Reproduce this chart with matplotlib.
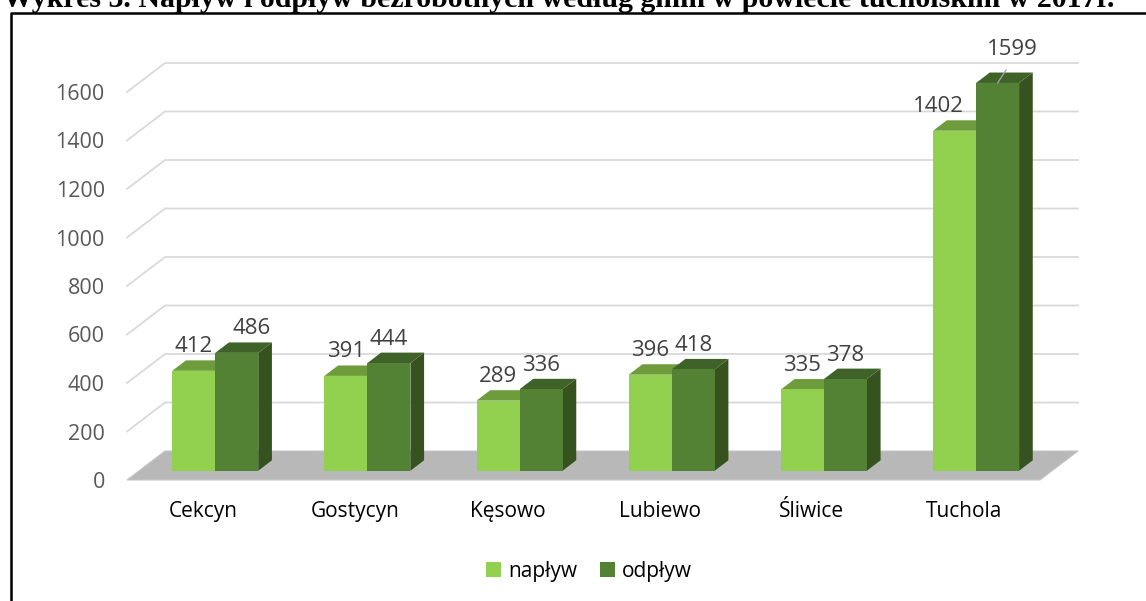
import matplotlib
matplotlib.use("Agg")
import matplotlib.pyplot as plt
from matplotlib.patches import Polygon, Patch
from matplotlib.lines import Line2D

gminy = ["Cekcyn", "Gostycyn", "Kęsowo", "Lubiewo", "Śliwice", "Tuchola"]
naplyw = [412, 391, 289, 396, 335, 1402]
odplyw = [486, 444, 336, 418, 378, 1599]
serie = ["napływ", "odpływ"]
yticks = [0, 200, 400, 600, 800, 1000, 1200, 1400, 1600]
tytul = "Wykres 3. Napływ i odpływ bezrobotnych według gmin w powiecie tucholskim w 2017r."

kol_przod = ["#92D050", "#548235"]
kol_gora = ["#6E9C3C", "#3F6229"]
kol_bok = ["#4E7A2C", "#36531F"]

plt.rcParams["font.family"] = ["Open Sans", "DejaVu Sans"]

W, H = 1146, 601
fig = plt.figure(figsize=(W / 100, H / 100), dpi=100)
ax = fig.add_axes([127 / W, (H - 480) / H, 913 / W, (480 - 43.5) / H])
ax.set_xlim(-0.5, len(gminy) - 0.5)
ax.set_ylim(0, 1800)
for s in ax.spines.values():
    s.set_visible(False)

# glebokosc "3D" w jednostkach danych (z pikseli)
p0 = ax.transData.transform((0, 0))
p1 = ax.transData.transform((1, 1000))
sx = p1[0] - p0[0]
sy = (p1[1] - p0[1]) / 1000
DX = 38 / sx
DY = 29 / sy
f, g = 0.32, 0.68          # przod / tyl slupka (czesc glebokosci)
w = 43 / sx                # szerokosc slupka

x0, x1 = -0.5, len(gminy) - 0.5

# linie siatki
for v in yticks[1:]:
    ax.plot([x0, x0 + DX, x1 + DX], [v, v + DY, v + DY], color="#D9D9D9",
            lw=1.3, clip_on=False, zorder=1)

# podloga
ax.add_patch(Polygon([(x0, 0), (x1, 0), (x1 + DX, DY), (x0 + DX, DY)],
                     closed=True, facecolor="#B8B8B8", edgecolor="#C4C4C4",
                     lw=0.8, clip_on=False, zorder=2))

# przesuniecia etykiet (px)
nudge = [[0, 0, 0, 0, 0, -16], [15, 0, 0, 0, 0, 15]]

for k, dane in enumerate([naplyw, odplyw]):
    for i, v in enumerate(dane):
        a = i - w + k * w
        b = a + w
        ox, oy = f * DX, f * DY
        bx, by = g * DX, g * DY
        # bok
        ax.add_patch(Polygon([(b + ox, oy), (b + bx, by), (b + bx, v + by), (b + ox, v + oy)],
                             closed=True, facecolor=kol_bok[k], edgecolor="none",
                             clip_on=False, zorder=3 + k))
        # gora
        ax.add_patch(Polygon([(a + ox, v + oy), (b + ox, v + oy), (b + bx, v + by), (a + bx, v + by)],
                             closed=True, facecolor=kol_gora[k], edgecolor="none",
                             clip_on=False, zorder=3 + k))
        # przod
        ax.add_patch(Polygon([(a + ox, oy), (b + ox, oy), (b + ox, v + oy), (a + ox, v + oy)],
                             closed=True, facecolor=kol_przod[k], edgecolor="none",
                             clip_on=False, zorder=3 + k))
        cx = (a + b) / 2 + ox
        if k == 1 and i == len(gminy) - 1:
            ax.annotate(str(v), xy=(cx, v + oy), xytext=(nudge[k][i], 28),
                        textcoords="offset pixels", ha="center", va="baseline",
                        fontsize=16, color="#404040", zorder=10,
                        arrowprops=dict(arrowstyle="-", color="#A6A6A6", lw=0.9,
                                        shrinkA=6, shrinkB=0, relpos=(0.5, 0)))
        else:
            ax.annotate(str(v), xy=(cx, v + by), xytext=(nudge[k][i], 8),
                        textcoords="offset pixels", ha="center", va="baseline",
                        fontsize=16, color="#404040", zorder=10)

ax.set_yticks(yticks)
ax.set_yticklabels([str(t) for t in yticks], fontsize=15.5, color="#595959")
ax.set_xticks(range(len(gminy)))
ax.set_xticklabels(gminy, fontsize=15, color="#000000")
ax.tick_params(axis="y", length=0, pad=16)
ax.tick_params(axis="x", length=0, pad=15)
ax.patch.set_visible(False)

uchwyty = [Patch(facecolor=kol_przod[0]), Patch(facecolor=kol_przod[1])]
fig.legend(uchwyty, serie, loc="center", bbox_to_anchor=(0.514, 1 - 571 / H), ncol=2,
           frameon=False, fontsize=15, handlelength=0.7, handleheight=0.7,
           handletextpad=0.35, columnspacing=1.1)

# ramka i tytul (przyciety u gory, jak w oryginale)
fig.add_artist(Line2D([11 / W, 11 / W, 1], [0, 1 - 13 / H, 1 - 13 / H],
                      transform=fig.transFigure, color="black", lw=1.8))
fig.text(3 / W, 1 - 7 / H, tytul, fontsize=21.5, fontweight="bold",
         family="Liberation Serif", ha="left", va="baseline")

fig.savefig("out.png", dpi=100)
